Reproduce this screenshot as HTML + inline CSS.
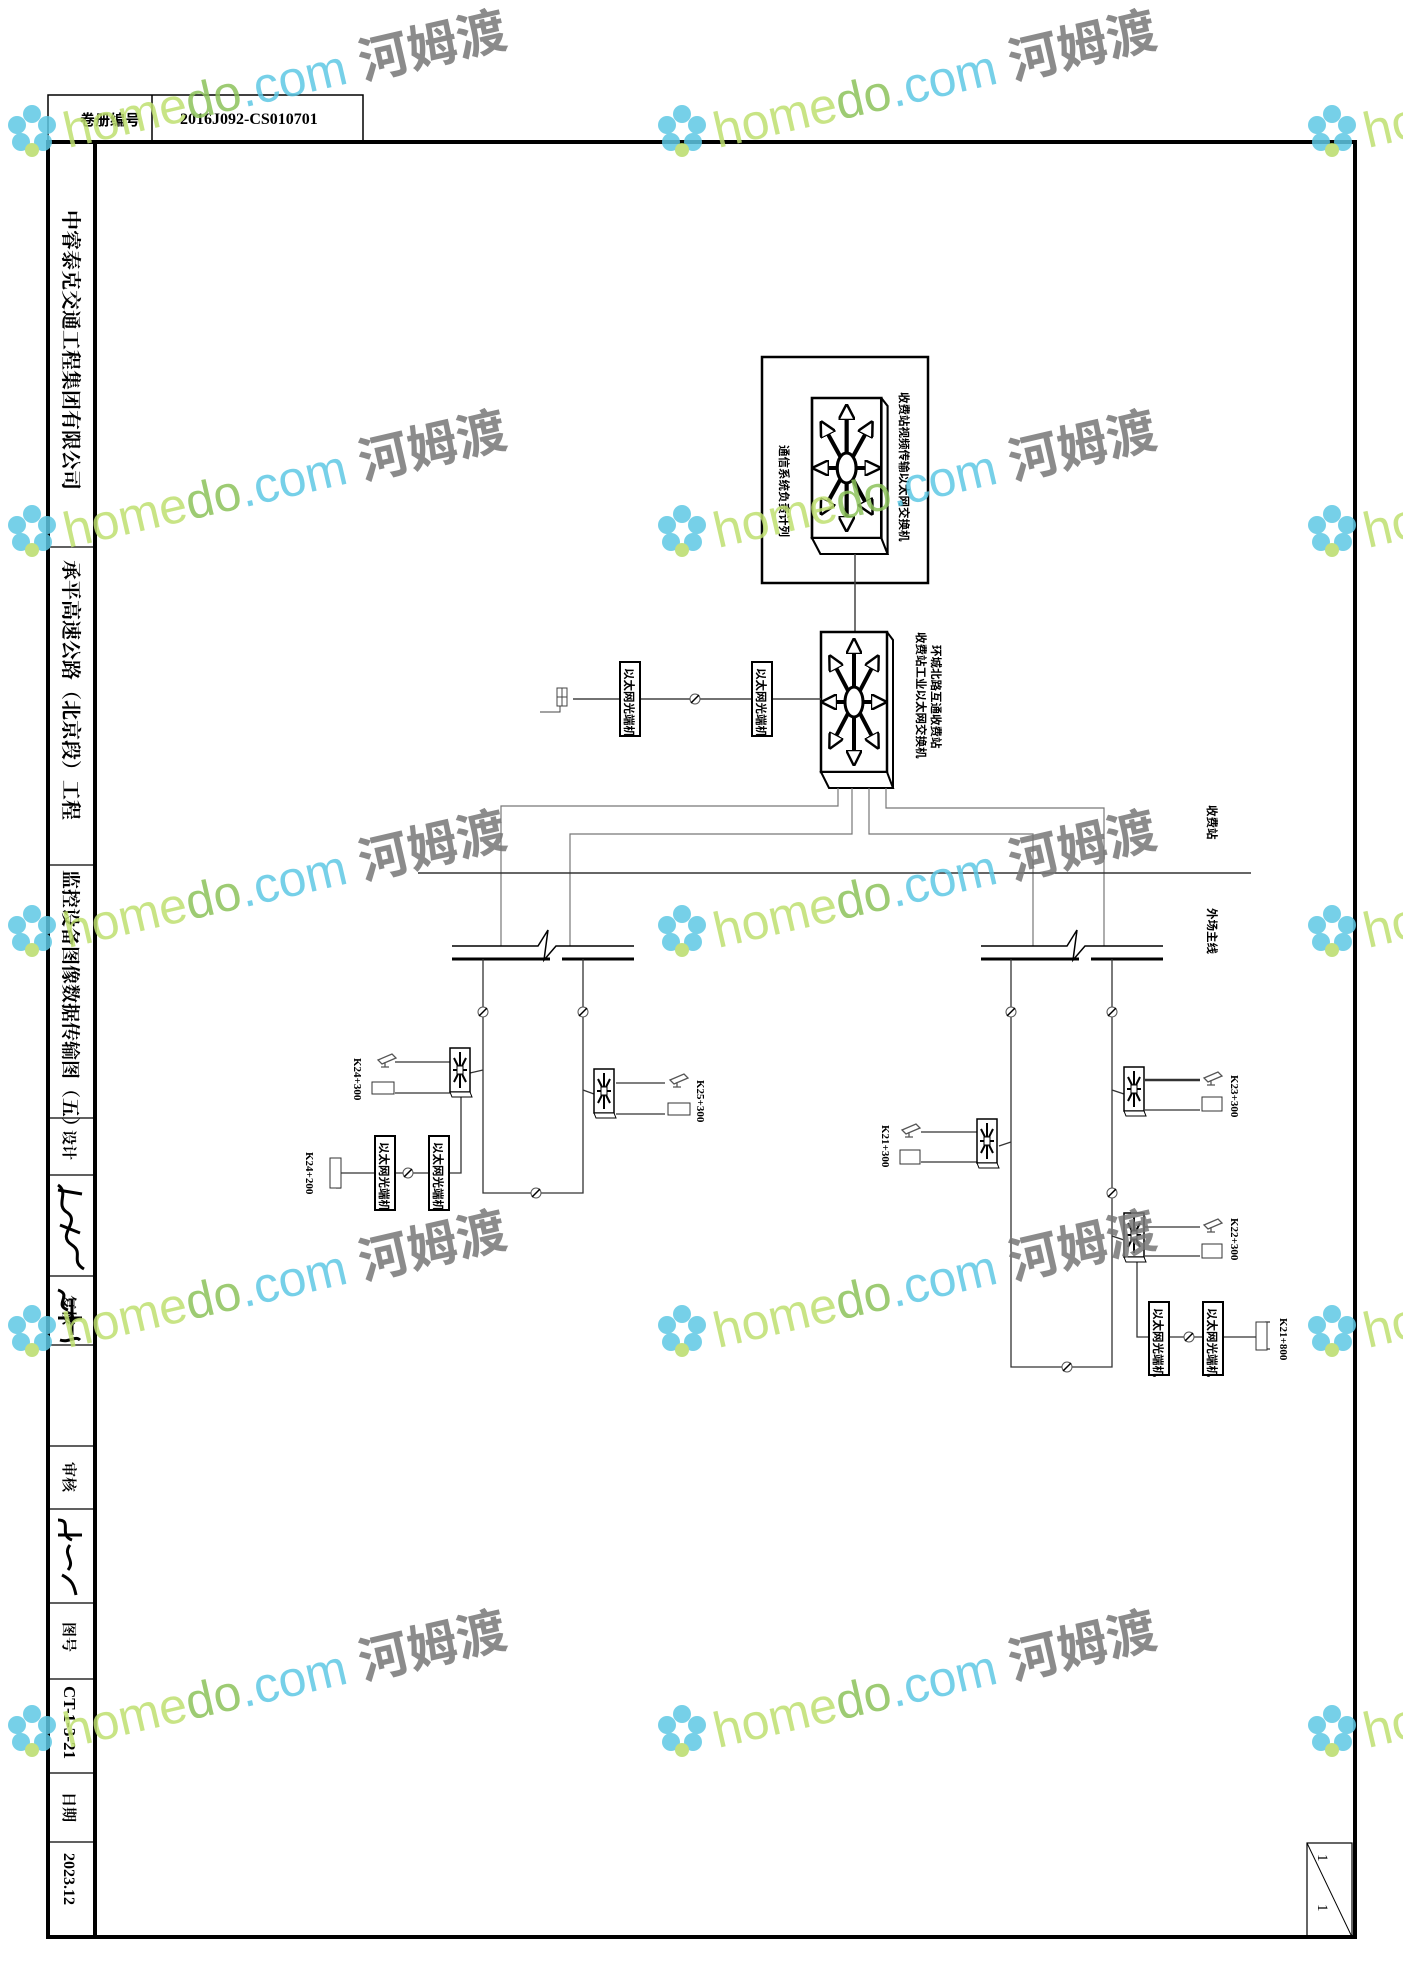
<!DOCTYPE html>
<html><head><meta charset="utf-8"><style>
html,body{margin:0;padding:0;background:#fff}
svg{display:block}
text{font-family:"Liberation Serif","Noto Serif CJK SC","Noto Sans CJK SC",serif;fill:#000}
.cn{font-family:"Liberation Sans","Noto Sans CJK SC",sans-serif;font-weight:bold}
.wm{font-family:"Liberation Sans","Noto Sans CJK SC",sans-serif;font-size:50px}
</style></head><body>
<svg width="1403" height="1985" viewBox="0 0 1403 1985" xmlns="http://www.w3.org/2000/svg">
<defs>
<marker id="ah" viewBox="0 0 10 10" refX="5" refY="5" markerWidth="4" markerHeight="4" orient="auto"><path d="M0,0L10,5L0,10z" fill="#fff" stroke="#000" stroke-width="1.5"/></marker>
<g id="bigsw">
 <rect x="0" y="0" width="66" height="140" fill="#fff" stroke="#000" stroke-width="2.5"/>
 <path d="M0,140L8,156L72,156L66,140z" fill="#fff" stroke="#000" stroke-width="2"/>
 <path d="M66,0L72,8L72,156" fill="none" stroke="#000" stroke-width="2"/>
 <g stroke="#000" stroke-width="4" marker-end="url(#ah)" fill="none">
  <line x1="33" y1="70" x2="33" y2="14"/><line x1="33" y1="70" x2="33" y2="126"/>
  <line x1="33" y1="70" x2="8" y2="70"/><line x1="33" y1="70" x2="58" y2="70"/>
  <line x1="33" y1="70" x2="12" y2="30"/><line x1="33" y1="70" x2="54" y2="30"/>
  <line x1="33" y1="70" x2="12" y2="110"/><line x1="33" y1="70" x2="54" y2="110"/>
 </g>
 <ellipse cx="33" cy="70" rx="9" ry="15" fill="#fff" stroke="#000" stroke-width="3"/>
</g>
<g id="smsw">
 <rect x="0" y="0" width="20" height="44" fill="#fff" stroke="#000" stroke-width="1.5"/>
 <path d="M0,44L2,49L22,49L20,44z" fill="#fff" stroke="#000" stroke-width="1"/>
 <g stroke="#000" stroke-width="2"><line x1="10" y1="4" x2="10" y2="40"/><line x1="3" y1="22" x2="17" y2="22"/><line x1="4" y1="10" x2="16" y2="34"/><line x1="16" y1="10" x2="4" y2="34"/></g>
 <rect x="7" y="18" width="6" height="8" fill="#fff" stroke="#000"/>
</g>
<g id="brk"><circle r="5" fill="#fff" stroke="#555" stroke-width="1"/><line x1="-4" y1="4" x2="4" y2="-4" stroke="#000" stroke-width="1.5"/></g>
<g id="cam"><path d="M0,0l14,-6l4,4l-14,6z M7,2l0,5 M3,7l8,0" fill="none" stroke="#555" stroke-width="1.3"/></g>
</defs>

<rect x="48" y="95" width="315" height="47" fill="none" stroke="#000" stroke-width="1.5"/>
<line x1="152" y1="95" x2="152" y2="142" stroke="#000" stroke-width="1.5"/>
<text x="80" y="125" class="cn" font-size="15">卷册编号</text>
<text x="180" y="124" font-size="16" font-weight="bold">2016J092-CS010701</text>
<rect x="48" y="142" width="47" height="1795" fill="none" stroke="#000" stroke-width="4"/>
<rect x="95" y="142" width="1260" height="1795" fill="none" stroke="#000" stroke-width="4"/>
<g stroke="#000" stroke-width="1.2">
<line x1="48" y1="547" x2="95" y2="547"/><line x1="48" y1="865" x2="95" y2="865"/><line x1="48" y1="1118" x2="95" y2="1118"/>
<line x1="48" y1="1175" x2="95" y2="1175"/><line x1="48" y1="1276" x2="95" y2="1276"/><line x1="48" y1="1345" x2="95" y2="1345"/>
<line x1="48" y1="1446" x2="95" y2="1446"/><line x1="48" y1="1509" x2="95" y2="1509"/><line x1="48" y1="1603" x2="95" y2="1603"/>
<line x1="48" y1="1679" x2="95" y2="1679"/><line x1="48" y1="1773" x2="95" y2="1773"/><line x1="48" y1="1842" x2="95" y2="1842"/>
</g>
<g class="cn" font-size="20">
<text transform="translate(64,210) rotate(90)" font-size="20">中睿泰克交通工程集团有限公司</text>
<text transform="translate(64,560) rotate(90)" font-size="20">承平高速公路（北京段）工程</text>
<text transform="translate(64,870) rotate(90)" font-size="19">监控设备图像数据传输图（五）</text>
<text transform="translate(64,1130) rotate(90)" font-size="15">设计</text>
<text transform="translate(64,1295) rotate(90)" font-size="15">复核</text>
<text transform="translate(64,1462) rotate(90)" font-size="15">审核</text>
<text transform="translate(64,1622) rotate(90)" font-size="15">图号</text>
<text transform="translate(64,1792) rotate(90)" font-size="15">日期</text>
</g>
<text transform="translate(64,1686) rotate(90)" font-size="17" font-weight="bold">CT-1-3-21</text>
<text transform="translate(64,1853) rotate(90)" font-size="16" font-weight="bold">2023.12</text>
<g fill="none" stroke="#000" stroke-width="3">
<path d="M58,1185c12,8 -4,20 10,28c12,10 -12,22 4,32c12,8 -2,16 12,24"/>
<path d="M58,1190l24,4 M60,1225l20,8"/>
<path d="M58,1290c15,5 -5,15 10,20 M72,1300l0,35 M60,1340c10,3 15,-5 20,0 M58,1318l24,0"/>
<path d="M58,1520c15,0 0,15 14,20 M70,1545c-8,10 6,15 -2,25 M62,1575c10,5 12,10 14,20 M58,1535l24,0"/>
</g>
<rect x="1307" y="1843" width="45" height="94" fill="none" stroke="#000" stroke-width="1.2"/>
<line x1="1307" y1="1843" x2="1352" y2="1937" stroke="#000"/>
<text transform="translate(1318,1854) rotate(90)" font-size="15">1</text>
<text transform="translate(1318,1904) rotate(90)" font-size="15">1</text>

<rect x="762" y="357" width="166" height="226" fill="none" stroke="#000" stroke-width="2.5"/>
<use href="#bigsw" transform="translate(812,398) scale(1.05,1.0)"/>
<text transform="translate(900,392) rotate(90)" class="cn" font-size="11.5">收费站视频传输以太网交换机</text>
<text transform="translate(780,445) rotate(90)" class="cn" font-size="11.5">通信系统负责计列</text>
<line x1="855" y1="554" x2="855" y2="632" stroke="#444" stroke-width="1.5"/>
<use href="#bigsw" transform="translate(821,632)"/>
<text transform="translate(932,645) rotate(90)" class="cn" font-size="11.5">环城北路互通收费站</text>
<text transform="translate(917,632) rotate(90)" class="cn" font-size="11.5">收费站工业以太网交换机</text>
<line x1="573" y1="699" x2="821" y2="699" stroke="#444" stroke-width="1.5"/>
<rect x="620" y="662" width="20" height="74" fill="#fff" stroke="#000" stroke-width="2"/>
<rect x="752" y="662" width="20" height="74" fill="#fff" stroke="#000" stroke-width="2"/>
<text transform="translate(625,668) rotate(90)" class="cn" font-size="11.5">以太网光端机</text>
<text transform="translate(757,668) rotate(90)" class="cn" font-size="11.5">以太网光端机</text>
<use href="#brk" transform="translate(695,699)"/>
<rect x="557" y="688" width="10" height="18" fill="none" stroke="#444"/>
<line x1="557" y1="697" x2="567" y2="697" stroke="#444"/><line x1="562" y1="688" x2="562" y2="706" stroke="#444"/>
<path d="M540,712l20,0l0,-6" fill="none" stroke="#444"/>

<g stroke="#777" stroke-width="1.2" fill="none">
<path d="M838,788L838,806L501,806L501,946"/>
<path d="M852,788L852,834L570,834L570,946"/>
<path d="M869,788L869,834L1033,834L1033,946"/>
<path d="M886,788L886,808L1104,808L1104,946"/>
</g>
<line x1="418" y1="873" x2="1251" y2="873" stroke="#333" stroke-width="1.5"/>
<text transform="translate(1208,805) rotate(90)" class="cn" font-size="11.5">收费站</text>
<text transform="translate(1208,908) rotate(90)" class="cn" font-size="11.5">外场主线</text>

<g stroke="#000" fill="none">
<path d="M452,946L538,946L548,930L544,960L556,946L634,946" stroke-width="1.5"/>
<path d="M452,959L550,959 M562,959L634,959" stroke-width="3"/>
<path d="M981,946L1067,946L1077,930L1073,960L1085,946L1163,946" stroke-width="1.5"/>
<path d="M981,959L1079,959 M1091,959L1163,959" stroke-width="3"/>
</g>

<g stroke="#333" stroke-width="1.3" fill="none">
<path d="M483,959L483,1193L583,1193L583,959"/>
<path d="M470,1073L483,1070"/><path d="M594,1094L583,1090"/>
<line x1="395" y1="1062" x2="450" y2="1062"/><line x1="395" y1="1093" x2="450" y2="1093"/>
<line x1="616" y1="1083" x2="665" y2="1083"/><line x1="616" y1="1114" x2="665" y2="1114"/>
<path d="M461,1097L461,1173L341,1173"/>
<path d="M341,1160L336,1160 M341,1188L336,1188"/>
</g>
<use href="#smsw" transform="translate(450,1048)"/>
<use href="#smsw" transform="translate(594,1069)"/>
<use href="#cam" transform="translate(378,1060)"/>
<rect x="372" y="1082" width="22" height="12" fill="#fff" stroke="#333"/>
<use href="#cam" transform="translate(670,1080)"/>
<rect x="668" y="1103" width="22" height="12" fill="#fff" stroke="#333"/>
<rect x="330" y="1158" width="11" height="30" fill="#fff" stroke="#333"/>
<rect x="375" y="1136" width="20" height="74" fill="#fff" stroke="#000" stroke-width="2"/>
<rect x="429" y="1136" width="20" height="74" fill="#fff" stroke="#000" stroke-width="2"/>
<text transform="translate(380,1142) rotate(90)" class="cn" font-size="11.5">以太网光端机</text>
<text transform="translate(434,1142) rotate(90)" class="cn" font-size="11.5">以太网光端机</text>
<g font-size="11" font-weight="bold">
<text transform="translate(354,1058) rotate(90)">K24+300</text>
<text transform="translate(697,1080) rotate(90)">K25+300</text>
<text transform="translate(306,1152) rotate(90)">K24+200</text>
<text transform="translate(1231,1075) rotate(90)">K23+300</text>
<text transform="translate(882,1125) rotate(90)">K21+300</text>
<text transform="translate(1231,1218) rotate(90)">K22+300</text>
<text transform="translate(1280,1318) rotate(90)">K21+800</text>
</g>
<use href="#brk" transform="translate(483,1012)"/><use href="#brk" transform="translate(583,1012)"/>
<use href="#brk" transform="translate(536,1193)"/><use href="#brk" transform="translate(408,1173)"/>

<g stroke="#333" stroke-width="1.3" fill="none">
<path d="M1011,959L1011,1367L1112,1367L1112,959"/>
<path d="M1124,1094L1112,1090"/><path d="M999,1146L1011,1142"/><path d="M1124,1240L1112,1236"/>
<line x1="1145" y1="1080" x2="1200" y2="1080" stroke-width="2.5"/><line x1="1145" y1="1110" x2="1200" y2="1110"/>
<line x1="921" y1="1132" x2="977" y2="1132"/><line x1="921" y1="1162" x2="977" y2="1162"/>
<line x1="1145" y1="1227" x2="1200" y2="1227"/><line x1="1145" y1="1256" x2="1200" y2="1256"/>
<path d="M1137,1262L1137,1337L1267,1337"/>
<path d="M1265,1322L1270,1322 M1265,1349L1270,1349"/>
</g>
<use href="#smsw" transform="translate(1124,1067)"/>
<use href="#smsw" transform="translate(977,1119)"/>
<use href="#smsw" transform="translate(1124,1213)"/>
<use href="#cam" transform="translate(1204,1078)"/>
<rect x="1202" y="1097" width="20" height="14" fill="#fff" stroke="#333"/>
<use href="#cam" transform="translate(902,1130)"/>
<rect x="900" y="1150" width="20" height="14" fill="#fff" stroke="#333"/>
<use href="#cam" transform="translate(1204,1225)"/>
<rect x="1202" y="1244" width="20" height="14" fill="#fff" stroke="#333"/>
<rect x="1256" y="1322" width="11" height="28" fill="#fff" stroke="#333"/>
<rect x="1149" y="1302" width="20" height="73" fill="#fff" stroke="#000" stroke-width="2"/>
<rect x="1203" y="1302" width="20" height="73" fill="#fff" stroke="#000" stroke-width="2"/>
<text transform="translate(1154,1308) rotate(90)" class="cn" font-size="11.5">以太网光端机</text>
<text transform="translate(1208,1308) rotate(90)" class="cn" font-size="11.5">以太网光端机</text>
<use href="#brk" transform="translate(1011,1012)"/><use href="#brk" transform="translate(1112,1012)"/>
<use href="#brk" transform="translate(1112,1193)"/><use href="#brk" transform="translate(1067,1367)"/>
<use href="#brk" transform="translate(1189,1337)"/>

<g opacity="0.85">
<g id="wm1">
 <g transform="translate(32,130)"><circle cx="0" cy="-16" r="9" fill="#5ec8e4"/><circle cx="15" cy="-5" r="9" fill="#5ec8e4"/><circle cx="11" cy="12" r="9" fill="#5ec8e4"/><circle cx="-11" cy="12" r="9" fill="#5ec8e4"/><circle cx="-15" cy="-5" r="9" fill="#5ec8e4"/><circle cx="0" cy="20" r="7" fill="#b9dc6a"/></g>
 <text class="wm" transform="translate(68,148) rotate(-13)"><tspan fill="#bfe070">home</tspan><tspan fill="#8cc25a">do</tspan><tspan fill="#5ec8e4">.com </tspan><tspan fill="#777" font-weight="bold">河姆渡</tspan></text>
</g>
<use href="#wm1" transform="translate(650,0)"/><use href="#wm1" transform="translate(1300,0)"/>
<use href="#wm1" transform="translate(0,400)"/><use href="#wm1" transform="translate(650,400)"/><use href="#wm1" transform="translate(1300,400)"/>
<use href="#wm1" transform="translate(0,800)"/><use href="#wm1" transform="translate(650,800)"/><use href="#wm1" transform="translate(1300,800)"/>
<use href="#wm1" transform="translate(0,1200)"/><use href="#wm1" transform="translate(650,1200)"/><use href="#wm1" transform="translate(1300,1200)"/>
<use href="#wm1" transform="translate(0,1600)"/><use href="#wm1" transform="translate(650,1600)"/><use href="#wm1" transform="translate(1300,1600)"/>
</g>
</svg>
</body></html>
